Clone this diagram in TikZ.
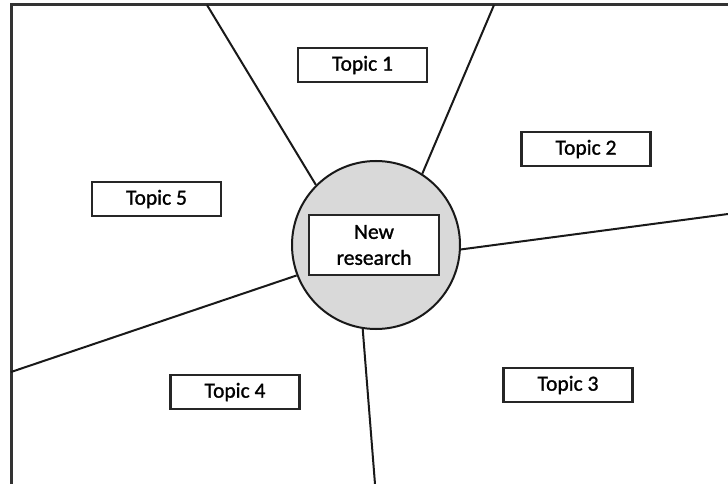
\documentclass[tikz,border=0pt]{standalone}
\usepackage{fontspec}
\setmainfont{Carlito}[UprightFeatures={FakeBold=1.2}]
\definecolor{hubgray}{HTML}{D9D9D9}
\begin{document}
\begin{tikzpicture}[x=1pt,y=-1pt,
  topicbox/.style={draw=black!85,line width=2.4pt,fill=white,minimum width=129pt,minimum height=34pt,inner sep=0pt,font=\fontsize{21.5}{26}\selectfont},
  divider/.style={draw=black!90,line width=2pt},
  frame/.style={draw=black!80,line width=3pt}]
\useasboundingbox (0,0) rectangle (728,484);
\draw[frame] (11,5) rectangle (740,485);
% outer ends
\coordinate (e1) at (207,5);
\coordinate (e2) at (494,5);
\coordinate (e3) at (728,214);
\coordinate (e4) at (375,484);
\coordinate (e5) at (11,372);
% hub
\node[circle,draw=black!90,line width=2pt,fill=hubgray,minimum size=168pt,inner sep=0pt] (hub) at (376,245) {};
\draw[divider] (e1) -- (hub.135);
\draw[divider] (e2) -- (hub.57);
\draw[divider] (e3) -- (hub.-3);
\draw[divider] (e4) -- (hub.261);
\draw[divider] (e5) -- (hub.201);
\node[topicbox,minimum width=130pt,minimum height=60pt,align=center] (nr) at (374,245) {New\\research};
% topics
\node[topicbox] (t1) at (362.5,65) {Topic 1};
\node[topicbox] (t2) at (586,149) {Topic 2};
\node[topicbox] (t3) at (568,385) {Topic 3};
\node[topicbox] (t4) at (235,392) {Topic 4};
\node[topicbox] (t5) at (156.5,199) {Topic 5};
\end{tikzpicture}
\end{document}
